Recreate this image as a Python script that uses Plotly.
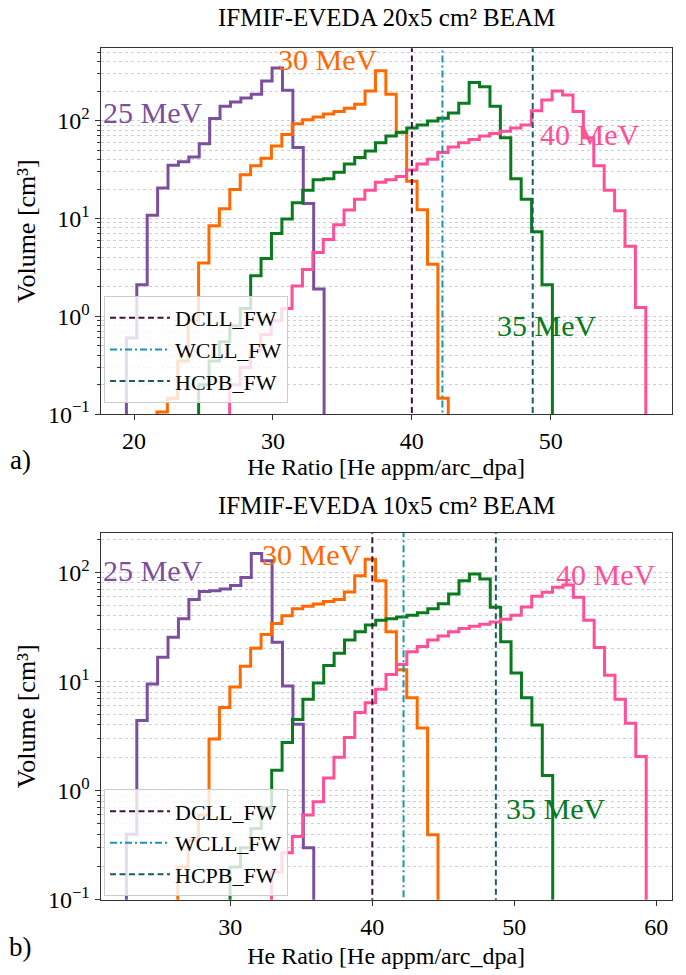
import numpy as np
import plotly.graph_objects as go

FONT = "Liberation Serif"

# ---------------- data ----------------
# Panel a) IFMIF-EVEDA 20x5 cm2 beam : bin width and first bin edge per energy
bin_w_a = 0.749
start_a = {"25": 19.45, "30": 21.65, "35": 24.65, "40": 26.88}
vol_25_a = [0.6, 2.1, 10.8, 20.5, 35, 38, 42.6, 58, 105, 140, 155, 170, 186, 254, 346, 205, 53, 14.2, 1.9]
vol_30_a = [0.105, 0.145, 0.35, 0.9, 3.5, 8.4, 12.6, 19.8, 28, 34.6, 41.3, 55, 72, 93, 102, 109, 117,
            124, 134, 147, 201, 323, 186, 75, 24, 12.3, 3.4, 0.145]
vol_35_a = [0.2, 0.35, 0.55, 0.8, 1.2, 2.6, 3.9, 7.0, 9.9, 14.5, 19.4, 24.8, 25.4, 29.6, 36, 42, 49, 59.5,
            69.5, 76, 84, 90, 99, 106, 120, 151, 246, 222, 140, 67, 25.4, 15.7, 7.3, 2.1]
vol_40_a = [0.2, 0.3, 0.45, 0.65, 0.9, 1.2, 2.04, 3.0, 4.5, 6.1, 8.6, 12.2, 15.7, 19.4, 23.5, 24.8, 26.8,
            31.3, 36, 40.4, 47.2, 53.8, 59.5, 64.3, 69.5, 74, 78, 84, 90, 126, 163, 201, 183, 124, 67,
            34.6, 19.4, 12, 5.2, 1.23]

# Panel b) IFMIF-EVEDA 10x5 cm2 beam
bin_w_b = 0.733
start_b = {"25": 22.68, "30": 26.3, "35": 29.98, "40": 32.9}
vol_25_b = [0.4, 4.4, 9.5, 16.7, 25.4, 37.7, 56.5, 67, 68, 70.6, 75.7, 90, 149, 128, 22.9, 9.1, 4.07, 0.3]
vol_30_b = [0.2, 0.35, 0.6, 2.98, 5.8, 8.9, 13.8, 20.2, 27, 34, 40, 46.4, 48.9, 51.3, 54, 56.5, 66, 93,
            132, 84, 28.6, 12.8, 7.1, 3.75, 0.395]
vol_35_b = [0.2, 0.3, 0.45, 0.7, 1.54, 2.77, 4.5, 6.9, 9.7, 14, 18.2, 24, 28.6, 32.9, 36.5, 37.7, 39.1,
            40.5, 42.8, 46.4, 51.6, 63.5, 84, 96.6, 87, 48, 23.2, 12, 7.1, 4.0, 1.38]
vol_40_b = [0.18, 0.27, 0.38, 0.6, 0.79, 1.31, 2.03, 3.08, 5.2, 6.4, 8.5, 11.6, 14.3, 18.8, 20.9, 24,
            26.1, 28.6, 30.6, 32.2, 33.5, 35.2, 37.2, 40.5, 48.2, 60.5, 65.9, 73, 76.7, 59.3, 36.5, 20.5,
            11.4, 6.9, 4.16, 2.06]

energies = ["25", "30", "35", "40"]
energy_labels = ["25 MeV", "30 MeV", "35 MeV", "40 MeV"]
colors = {"25": "#7c4f9e", "30": "#ff6a00", "35": "#0a7a1e", "40": "#ff4f98"}

blankets = ["DCLL_FW", "WCLL_FW", "HCPB_FW"]
blanket_ratio = [40.0, 42.2, 48.7]
blanket_colors = ["#40103f", "#1a95b0", "#1b5b68"]
blanket_dash = ["6px,3.5px", "7px,3px,2px,3px", "6px,3.5px"]

titles = ["IFMIF-EVEDA 20x5 cm² BEAM", "IFMIF-EVEDA 10x5 cm² BEAM"]
panel_tags = ["a)", "b)"]
x_ticks_a = [20, 30, 40, 50]
x_ticks_b = [30, 40, 50, 60]
y_ticks = [0.1, 1, 10, 100]
y_ticktext = ["10<sup>−1</sup>", "10<sup>0</sup>", "10<sup>1</sup>", "10<sup>2</sup>"]
# label anchor positions (data coords: x, log10 y)
label_pos_a = {"25": (21.3, 2.08), "30": (33.9, 2.62), "35": (49.7, -0.09), "40": (52.8, 1.86)}
label_pos_b = {"25": (24.5, 2.02), "30": (35.75, 2.16), "35": (52.9, -0.16), "40": (56.45, 1.98)}

FLOOR = 1e-4  # below axis range; used to close the step outline

vols_a = {"25": vol_25_a, "30": vol_30_a, "35": vol_35_a, "40": vol_40_a}
vols_b = {"25": vol_25_b, "30": vol_30_b, "35": vol_35_b, "40": vol_40_b}


def step_xy(x0, w, vals):
    edges = x0 + w * np.arange(len(vals) + 1)
    xs = [edges[0]] + list(edges[:-1]) + [edges[-1], edges[-1]]
    ys = [FLOOR] + list(vals) + [vals[-1], FLOOR]
    return xs, ys


fig = go.Figure()

panels = [
    (start_a, bin_w_a, vols_a, "x", "y", "legend", label_pos_a),
    (start_b, bin_w_b, vols_b, "x2", "y2", "legend2", label_pos_b),
]

for starts, w, vols, xa, ya, lg, lpos in panels:
    for e, lab in zip(energies, energy_labels):
        xs, ys = step_xy(starts[e], w, vols[e])
        fig.add_trace(go.Scatter(x=xs, y=ys, mode="lines", line=dict(color=colors[e], width=3, shape="hv"),
                                 xaxis=xa, yaxis=ya, showlegend=False, name=lab, hoverinfo="skip"))
    for name, xr, c, d in zip(blankets, blanket_ratio, blanket_colors, blanket_dash):
        fig.add_trace(go.Scatter(x=[xr, xr], y=[FLOOR, 1e4], mode="lines",
                                 line=dict(color=c, width=2, dash=d), name=name,
                                 xaxis=xa, yaxis=ya, legend=lg, showlegend=True))
    for e, lab in zip(energies, energy_labels):
        fig.add_annotation(x=lpos[e][0], y=lpos[e][1], xref=xa, yref=ya, text=lab, showarrow=False,
                           font=dict(family=FONT, size=30, color=colors[e]), xanchor="center", yanchor="middle")

W, H = 686, 975
xdom = [100.7 / W, 671.5 / W]
ydom_a = [1 - 419.7 / H, 1 - 48.8 / H]
ydom_b = [1 - 912.0 / H, 1 - 540.0 / H]

grid_col = "#cfcfcf"
minor_vals = [m * 10.0 ** p for p in range(-1, 3) for m in range(2, 10)]

common_x = dict(showline=True, mirror=True, linecolor="#333333", linewidth=1.3, ticks="outside",
                ticklen=5, tickwidth=1.2, tickcolor="#333333", showgrid=False, zeroline=False,
                tickfont=dict(family=FONT, size=24, color="black"))
xtitle = "He Ratio [He appm/arc_dpa]"
common_y = dict(type="log", showline=True, mirror=True, linecolor="#333333", linewidth=1.3,
                ticks="outside", ticklen=5, tickwidth=1.2, tickcolor="#333333",
                tickmode="array", tickvals=y_ticks, ticktext=y_ticktext,
                showgrid=True, gridcolor=grid_col, griddash="dot", gridwidth=1, zeroline=False,
                minor=dict(tickmode="array", tickvals=minor_vals, ticks="outside", ticklen=3,
                           tickcolor="#333333", showgrid=True, gridcolor=grid_col, griddash="dot",
                           gridwidth=1),
                tickfont=dict(family=FONT, size=24, color="black"),
                title=dict(text="Volume [cm³]", font=dict(family=FONT, size=26, color="black"), standoff=4))

legend_common = dict(x=104 / W, xanchor="left", yanchor="top", bgcolor="rgba(255,255,255,0.8)",
                     bordercolor="#cccccc", borderwidth=1, itemwidth=60,
                     font=dict(family=FONT, size=22, color="black"), tracegroupgap=0)

fig.update_layout(
    width=W, height=H, margin=dict(l=0, r=0, t=0, b=0),
    paper_bgcolor="white", plot_bgcolor="white",
    font=dict(family=FONT, color="black"),
    xaxis=dict(domain=xdom, anchor="y", range=[17.6, 58.69], tickvals=x_ticks_a,
               title=dict(text=xtitle, font=dict(family=FONT, size=24, color="black"), standoff=3),
               **common_x),
    yaxis=dict(domain=ydom_a, anchor="x", range=[-1, 2.741], **common_y),
    xaxis2=dict(domain=xdom, anchor="y2", range=[20.87, 61.07], tickvals=x_ticks_b,
                title=dict(text=xtitle, font=dict(family=FONT, size=24, color="black"), standoff=8),
                **common_x),
    yaxis2=dict(domain=ydom_b, anchor="x2", range=[-1, 2.363], **common_y),
    legend=dict(y=1 - 300 / H, **legend_common),
    legend2=dict(y=1 - 800 / H, **legend_common),
    showlegend=True,
)

xc = (xdom[0] + xdom[1]) / 2
for t, yp in zip(titles, [1 - 18 / H, 1 - 512 / H]):
    fig.add_annotation(x=xc, y=yp, xref="paper", yref="paper", text=t, showarrow=False,
                       font=dict(family=FONT, size=25, color="black"), xanchor="center", yanchor="middle")
for t, yp in zip(panel_tags, [1 - 466 / H, 1 - 960 / H]):
    fig.add_annotation(x=20 / W, y=yp, xref="paper", yref="paper", text=t, showarrow=False,
                       font=dict(family=FONT, size=27, color="black"), xanchor="center", yanchor="middle")

fig.write_html("out.html")
